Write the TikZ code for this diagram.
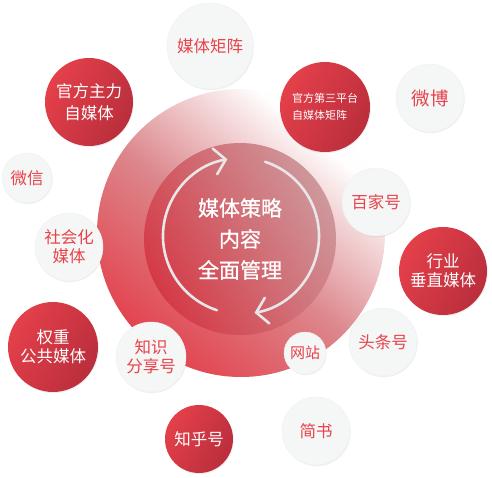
\documentclass[tikz,border=0pt]{standalone}
\usepackage{fontspec}
\newfontfamily\cjk{Noto Sans CJK SC}
\newfontfamily\cjkheavy[FakeBold=0.8]{Noto Sans CJK SC}
\usepackage{tikz}
\usetikzlibrary{arrows.meta,shadows}
\definecolor{satred}{RGB}{228,64,74}
\definecolor{deepred}{RGB}{186,46,60}
\definecolor{txtred}{RGB}{232,66,74}
\definecolor{pale}{RGB}{245,246,246}
\definecolor{arrgray}{RGB}{232,230,230}
\definecolor{hubred}{RGB}{228,58,70}
\definecolor{hubmid}{RGB}{220,135,140}
\definecolor{hubwhite}{RGB}{255,254,254}
\definecolor{corered}{RGB}{212,58,70}
\definecolor{corerose}{RGB}{206,152,156}
\pgfdeclarehorizontalshading{hubfade}{100bp}{color(0bp)=(hubred); color(22bp)=(hubred);
  color(48bp)=(hubmid); color(71bp)=(hubwhite); color(100bp)=(hubwhite)}

\begin{document}
\begin{tikzpicture}[x=1pt, y=1pt, font=\cjk,
  hub/.style={circle, minimum size=288pt, inner sep=0pt,
              shading=hubfade, shading angle=50},
  core/.style={circle, minimum size=192pt, inner sep=0pt, align=center,
               left color=corered, right color=corerose, shading angle=120,
               text=white, font=\cjkheavy\fontsize{21}{31}\selectfont},
  cyc/.style={draw=arrgray, line width=2.6pt, line cap=round,
              -{Straight Barb[length=11pt, width=26pt, line cap=round]}},
  sat/.style={circle, inner sep=0pt, align=center,
              font=\cjk\fontsize{16.5}{19}\selectfont,
              drop shadow={shadow xshift=0.8pt, shadow yshift=-1.2pt, opacity=0.12}},
  whitesat/.style={sat, fill=pale, draw=black!6, text=txtred},
  redsat/.style={sat, left color=satred, right color=deepred, shading angle=60, text=white}]

  \useasboundingbox (0,0) rectangle (492,477);

  % big ring and core
  \node[hub] (hub) at (241,244) {};
  \node[core] (core) at (240,238) {媒体策略\\内容\\全面管理};
  \coordinate (pivot) at (241,241);

  % cycle arrows
  \draw[cyc] (pivot) ++(252:78pt) arc[start angle=252, end angle=100, radius=78pt];
  \draw[cyc] (pivot) ++(72:78pt) arc[start angle=72, end angle=-80, radius=78pt];

  % satellites, clockwise from top
  \node[whitesat, minimum size=86pt] (matrix) at (210,431) {媒体矩阵};
  \node[redsat, minimum size=90pt, align=left,
        font=\cjk\fontsize{11}{17}\selectfont] (third) at (325,370) {官方第三平台\\自媒体矩阵};
  \node[whitesat, minimum size=68pt, font=\cjk\fontsize{18.5}{20}\selectfont] (weibo) at (430,379) {微博};
  \node[whitesat, minimum size=68pt] (baijia) at (376,275) {百家号};
  \node[redsat, minimum size=88pt] (vertical) at (443,206) {行业\\垂直媒体};
  \node[whitesat, minimum size=68pt] (toutiao) at (383,135) {头条号};
  \node[whitesat, minimum size=42pt, font=\cjk\fontsize{15}{18}\selectfont] (site) at (305,124) {网站};
  \node[whitesat, minimum size=68pt] (jianshu) at (316,46) {简书};
  \node[redsat, minimum size=68pt] (zhihu) at (199,38) {知乎号};
  \node[whitesat, minimum size=70pt] (share) at (151,120) {知识\\分享号};
  \node[redsat, minimum size=90pt] (weight) at (53,130) {权重\\公共媒体};
  \node[whitesat, minimum size=68pt] (social) at (69,230) {社会化\\媒体};
  \node[whitesat, minimum size=50pt] (wechat) at (27,299) {微信};
  \node[redsat, minimum size=88pt] (official) at (89,375) {官方主力\\[3pt]自媒体};
\end{tikzpicture}
\end{document}
